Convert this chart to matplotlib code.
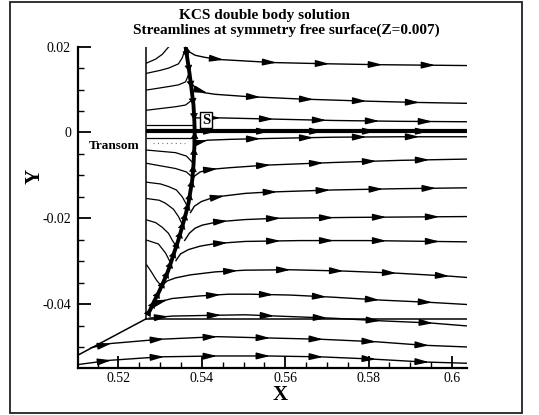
import numpy as np
import matplotlib
matplotlib.use("Agg")
import matplotlib.pyplot as plt
from matplotlib.patches import Rectangle
from matplotlib.ticker import MultipleLocator

plt.rcParams['font.family'] = ['Liberation Serif', 'DejaVu Serif']

# --- values (data units) ---
X_TICKS = [0.52, 0.54, 0.56, 0.58, 0.6]
X_TICK_LABELS = ['0.52', '0.54', '0.56', '0.58', '0.6']
Y_TICKS = [-0.04, -0.02, 0.0, 0.02]
Y_TICK_LABELS = ['-0.04', '-0.02', '0', '0.02']

TRANSOM_X = 0.5267
TOP_Y = 0.02
CORNER_Y = -0.0434
HULL_X = [0.5103, 0.5267]
HULL_Y = [-0.0519, -0.0434]
SYM_Y = 0.0003          # thick line on the symmetry plane
END_X = 0.6036

# separation line (thick)
SEP_X = [0.5361, 0.5365, 0.5370, 0.5375, 0.5380, 0.5382, 0.5383, 0.5382, 0.5380,
         0.5377, 0.5372, 0.5368, 0.5362, 0.5356, 0.5350, 0.5343, 0.5335, 0.5327,
         0.5319, 0.5309, 0.5298, 0.5286, 0.5277, 0.5272]
SEP_Y = [0.0200, 0.0174, 0.0141, 0.0104, 0.0064, 0.0029, 0.0001, -0.0036, -0.0076,
         -0.0111, -0.0141, -0.0165, -0.0188, -0.0209, -0.0230, -0.0253, -0.0276, -0.0300,
         -0.0323, -0.0346, -0.0370, -0.0393, -0.0412, -0.0421]

# streamlines downstream of the separation line
R1_X = [0.5363, 0.5370, 0.5384, 0.5408, 0.5444, 0.5571, 0.5708, 0.5828, 0.6036]
R1_Y = [0.0199, 0.0188, 0.0180, 0.0175, 0.0170, 0.0163, 0.0160, 0.0158, 0.0156]
R2_X = [0.5377, 0.5387, 0.5404, 0.5432, 0.5504, 0.5636, 0.5796, 0.5916, 0.6036]
R2_Y = [0.0113, 0.0101, 0.0093, 0.0089, 0.0084, 0.0078, 0.0073, 0.0070, 0.0068]
R3_X = [0.5382, 0.5444, 0.5581, 0.5715, 0.5875, 0.6036]
R3_Y = [0.0034, 0.0034, 0.0031, 0.0028, 0.0026, 0.0025]
R4_X = [0.5267, 0.6036]
R4_Y = [SYM_Y, SYM_Y]
R5_X = [0.5380, 0.5396, 0.5413, 0.5468, 0.5557, 0.5715, 0.5875, 0.6036]
R5_Y = [-0.0026, -0.0022, -0.0018, -0.0016, -0.0014, -0.0011, -0.0010, -0.0010]
R6_X = [0.5375, 0.5382, 0.5396, 0.5420, 0.5468, 0.5557, 0.5715, 0.5875, 0.6036]
R6_Y = [-0.0118, -0.0102, -0.0092, -0.0086, -0.0082, -0.0076, -0.0070, -0.0065, -0.0062]
R7_X = [0.5372, 0.5382, 0.5399, 0.5420, 0.5444, 0.5504, 0.5557, 0.5715, 0.5875, 0.6036]
R7_Y = [-0.0188, -0.0172, -0.0161, -0.0154, -0.0149, -0.0142, -0.0139, -0.0134, -0.0131, -0.0129]
R8_X = [0.5358, 0.5370, 0.5384, 0.5401, 0.5440, 0.5504, 0.5581, 0.5756, 0.6036]
R8_Y = [-0.0253, -0.0235, -0.0223, -0.0216, -0.0208, -0.0203, -0.0200, -0.0198, -0.0196]
R9_X = [0.5337, 0.5349, 0.5368, 0.5396, 0.5432, 0.5504, 0.5636, 0.5796, 0.6036]
R9_Y = [-0.0300, -0.0283, -0.0273, -0.0265, -0.0259, -0.0254, -0.0252, -0.0252, -0.0255]
R10_X = [0.5303, 0.5317, 0.5337, 0.5372, 0.5432, 0.5504, 0.5612, 0.5739, 0.5868, 0.5995, 0.6036]
R10_Y = [-0.0358, -0.0346, -0.0339, -0.0332, -0.0325, -0.0321, -0.0320, -0.0323, -0.0328, -0.0335, -0.0338]
R11_X = [0.5284, 0.5301, 0.5329, 0.5396, 0.5464, 0.5516, 0.5612, 0.5715, 0.5835, 0.5947, 0.6036]
R11_Y = [-0.0402, -0.0394, -0.0387, -0.0381, -0.0377, -0.0377, -0.0379, -0.0384, -0.0391, -0.0396, -0.0401]
R12_X = [0.5272, 0.5329, 0.5440, 0.5504, 0.5581, 0.5715, 0.5828, 0.5947, 0.6036]
R12_Y = [-0.0433, -0.0428, -0.0426, -0.0425, -0.0428, -0.0433, -0.0439, -0.0444, -0.0451]
R13_X = [0.5133, 0.5181, 0.5301, 0.5437, 0.5557, 0.5684, 0.5820, 0.5931, 0.6036]
R13_Y = [-0.0502, -0.0492, -0.0482, -0.0476, -0.0479, -0.0482, -0.0488, -0.0496, -0.0500]
R14_X = [0.5103, 0.5181, 0.5301, 0.5437, 0.5557, 0.5684, 0.5804, 0.5931, 0.6036]
R14_Y = [-0.0541, -0.0531, -0.0523, -0.0521, -0.0521, -0.0523, -0.0528, -0.0535, -0.0538]

# streamlines between transom and separation line
L1_X = [0.5268, 0.5289, 0.5305, 0.5320]
L1_Y = [0.0162, 0.0171, 0.0182, 0.0199]
L2_X = [0.5268, 0.5301, 0.5320, 0.5344, 0.5353, 0.5361]
L2_Y = [0.0138, 0.0145, 0.0150, 0.0160, 0.0174, 0.0197]
L3_X = [0.5268, 0.5320, 0.5344, 0.5361, 0.5370]
L3_Y = [0.0099, 0.0107, 0.0111, 0.0118, 0.0139]
L4_X = [0.5268, 0.5337, 0.5361, 0.5377]
L4_Y = [0.0052, 0.0060, 0.0064, 0.0076]
L5_X = [0.5268, 0.5382]
L5_Y = [0.0017, 0.0017]
L6_X = [0.5268, 0.5382]
L6_Y = [-0.0014, -0.0014]
L7_X = [0.5268, 0.5337, 0.5363, 0.5377]
L7_Y = [-0.0041, -0.0047, -0.0055, -0.0069]
L8_X = [0.5268, 0.5337, 0.5363, 0.5377]
L8_Y = [-0.0072, -0.0084, -0.0092, -0.0104]
L9_X = [0.5268, 0.5301, 0.5320, 0.5339, 0.5353, 0.5361, 0.5366]
L9_Y = [-0.0116, -0.0120, -0.0126, -0.0134, -0.0150, -0.0164, -0.0174]
L10_X = [0.5268, 0.5298, 0.5313, 0.5332, 0.5344, 0.5356]
L10_Y = [-0.0154, -0.0158, -0.0165, -0.0179, -0.0196, -0.0220]
L11_X = [0.5268, 0.5289, 0.5305, 0.5320, 0.5329, 0.5341]
L11_Y = [-0.0204, -0.0210, -0.0221, -0.0235, -0.0251, -0.0269]
L12_X = [0.5268, 0.5296, 0.5313, 0.5325]
L12_Y = [-0.0251, -0.0260, -0.0281, -0.0304]
L13_X = [0.5268, 0.5279, 0.5291, 0.5303]
L13_Y = [-0.0309, -0.0325, -0.0344, -0.0358]
DOT_X = [0.5283, 0.5360]
DOT_Y = [-0.0025, -0.0025]

right_lines = [(R1_X, R1_Y), (R2_X, R2_Y), (R3_X, R3_Y), (R4_X, R4_Y), (R5_X, R5_Y),
               (R6_X, R6_Y), (R7_X, R7_Y), (R8_X, R8_Y), (R9_X, R9_Y), (R10_X, R10_Y),
               (R11_X, R11_Y), (R12_X, R12_Y), (R13_X, R13_Y), (R14_X, R14_Y)]
left_lines = [(L1_X, L1_Y), (L2_X, L2_Y), (L3_X, L3_Y), (L4_X, L4_Y), (L5_X, L5_Y),
              (L6_X, L6_Y), (L7_X, L7_Y), (L8_X, L8_Y), (L9_X, L9_Y), (L10_X, L10_Y),
              (L11_X, L11_Y), (L12_X, L12_Y), (L13_X, L13_Y)]

# where the first arrow of each right streamline sits, and arrow spacing
arrow_first = [0.5452, 0.5414, 0.5445, 0.5438, 0.5414, 0.5438, 0.5454,
               0.5462, 0.5462, 0.5486, 0.5318, 0.5320, 0.5183, 0.5183]
ARROW_STEP = 0.0127

fig = plt.figure(figsize=(5.39, 4.15), dpi=100)
ax = fig.add_axes([0.1447, 0.1133, 0.7217, 0.7742])


def add_arrows(xs, ys, x0, step, scale=10):
    xa = x0
    while xa < xs[-1] - 0.003:
        ya = np.interp(xa, xs, ys)
        yb = np.interp(xa - 0.002, xs, ys)
        ax.annotate('', xy=(xa, ya), xytext=(xa - 0.002, yb),
                    arrowprops=dict(arrowstyle='-|>,head_length=0.8,head_width=0.2',
                                    color='k', lw=1.0, mutation_scale=scale,
                                    shrinkA=0, shrinkB=0))
        xa += step


# hull / transom outline
ax.plot([TRANSOM_X, TRANSOM_X], [TOP_Y, CORNER_Y], color='k', lw=1.1)
ax.plot(HULL_X, HULL_Y, color='k', lw=1.1)
ax.plot([TRANSOM_X, END_X], [CORNER_Y, CORNER_Y], color='k', lw=1.1)

for xs, ys in left_lines:
    ax.plot(xs, ys, color='k', lw=0.9)
ax.plot(DOT_X, DOT_Y, color='0.45', lw=0.8, ls=(0, (1, 3)))

for i, (xs, ys) in enumerate(right_lines):
    lw = 3.0 if i == 3 else 1.0
    ax.plot(xs, ys, color='k', lw=lw, solid_capstyle='butt')
    add_arrows(xs, ys, arrow_first[i], ARROW_STEP)

# separation line with small arrowheads pointing to the saddle point
ax.plot(SEP_X, SEP_Y, color='k', lw=2.8, solid_joinstyle='round')
for i in range(len(SEP_X) - 1):
    if SEP_Y[i] > 0.003:
        tip, tail = (SEP_X[i + 1], SEP_Y[i + 1]), (SEP_X[i], SEP_Y[i])
    elif SEP_Y[i + 1] < -0.003:
        tip, tail = (SEP_X[i], SEP_Y[i]), (SEP_X[i + 1], SEP_Y[i + 1])
    else:
        continue
    ax.annotate('', xy=tip, xytext=tail,
                arrowprops=dict(arrowstyle='-|>,head_length=0.6,head_width=0.35',
                                color='k', lw=0.5, mutation_scale=7,
                                shrinkA=0, shrinkB=0))

ax.text(0.5410, 0.0029, 'S', fontsize=10.5, fontweight='bold', ha='center', va='center',
        bbox=dict(boxstyle='square,pad=0.12', fc='white', ec='k', lw=1.0), zorder=5)

ax.set_xlim(0.5103, 0.6036)
ax.set_ylim(-0.0549, 0.02)
ax.set_xticks(X_TICKS)
ax.set_xticklabels(X_TICK_LABELS)
ax.set_yticks(Y_TICKS)
ax.set_yticklabels(Y_TICK_LABELS)
ax.xaxis.set_minor_locator(MultipleLocator(0.005))
ax.yaxis.set_minor_locator(MultipleLocator(0.005))
ax.tick_params(which='major', direction='in', length=9, width=1.3, labelsize=10)
ax.tick_params(axis='x', which='major', pad=3)
ax.tick_params(axis='y', which='major', pad=5)
ax.tick_params(which='minor', direction='in', length=4.5, width=1.0)
for side in ['top', 'right']:
    ax.spines[side].set_visible(False)
for side in ['left', 'bottom']:
    ax.spines[side].set_linewidth(1.6)

fig.text(264 / 539, 1 - 16 / 415, 'KCS double body solution', ha='center', va='center',
         fontsize=11, fontweight='bold')
fig.text(286 / 539, 1 - 30 / 415, 'Streamlines at symmetry free surface(Z=0.007)',
         ha='center', va='center', fontsize=11, fontweight='bold')
fig.text(280 / 539, 1 - 395 / 415, 'X', ha='center', va='center', fontsize=15,
         fontweight='bold')
fig.text(35 / 539, 1 - 176 / 415, 'Y', ha='center', va='center', fontsize=15,
         fontweight='bold', rotation=90)
fig.text(114 / 539, 1 - 146 / 415, 'Transom', ha='center', va='center', fontsize=9.5,
         fontweight='bold')

fig.add_artist(Rectangle((10 / 539, 2 / 415), 512 / 539, 411 / 415, transform=fig.transFigure,
                         fill=False, lw=1.3, ec='#222222'))

fig.savefig('out.png', dpi=100)
